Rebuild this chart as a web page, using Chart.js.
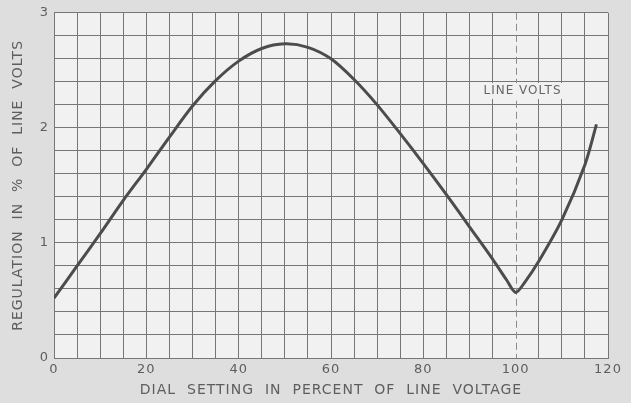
<!DOCTYPE html>
<html>
<head>
<meta charset="utf-8">
<script src="https://cdn.jsdelivr.net/npm/chart.js@4"></script>
<style>
  html, body { margin: 0; padding: 0; background: #dedede; }
  #wrap { width: 631px; height: 403px; }
</style>
</head>
<body>
<div id="wrap"><canvas id="chart1" width="631" height="403"></canvas></div>
<script>
// dial setting (% of line voltage) vs regulation (% of line volts)
const dialSetting = [0, 5, 10, 15, 20, 25, 30, 35, 40, 45, 50, 55, 60, 65, 70, 75, 80, 85, 90, 95, 98, 100, 102, 105, 110, 115, 117.5];
const regulation = [0.52, 0.8, 1.08, 1.37, 1.64, 1.92, 2.19, 2.41, 2.58, 2.69, 2.73, 2.7, 2.6, 2.42, 2.2, 1.95, 1.69, 1.42, 1.14, 0.86, 0.68, 0.57, 0.66, 0.84, 1.2, 1.68, 2.03];
const xLabelTicks = [0, 20, 40, 60, 80, 100, 120];
const yLabelTicks = [0, 1, 2, 3];
const lineVoltsAt = 100;
const lineVoltsLabel = 'LINE VOLTS';

const ink = '#5e5e5e';
const gridColor = '#767676';

const points = dialSetting.map((x, i) => ({ x: x, y: regulation[i] }));

// paper background + dashed marker at line volts
const paperPlugin = {
  id: 'paper',
  beforeDraw(chart) {
    const { ctx, chartArea: a } = chart;
    ctx.letterSpacing = '1px';
    ctx.save();
    ctx.fillStyle = '#f1f1f1';
    ctx.fillRect(a.left, a.top, a.right - a.left, a.bottom - a.top);
    ctx.restore();
  },
  beforeDatasetsDraw(chart) {
    const { ctx, chartArea: a, scales } = chart;
    const px = Math.round(scales.x.getPixelForValue(lineVoltsAt)) + 0.5;
    const ly = scales.y.getPixelForValue(2.32);
    ctx.save();
    ctx.strokeStyle = '#8c8c8c';
    ctx.lineWidth = 1;
    ctx.setLineDash([7, 4]);
    ctx.beginPath();
    ctx.moveTo(px, a.top);
    ctx.lineTo(px, a.bottom);
    ctx.stroke();
    ctx.setLineDash([]);
    ctx.font = '12px "DejaVu Sans"';
    const w = ctx.measureText(lineVoltsLabel).width;
    ctx.fillStyle = '#f1f1f1';
    ctx.fillRect(px + 6 - w / 2 - 4, ly - 8, w + 8, 16);
    ctx.fillStyle = '#666666';
    ctx.textAlign = 'center';
    ctx.textBaseline = 'middle';
    ctx.fillText(lineVoltsLabel, px + 6, ly);
    ctx.restore();
  }
};

new Chart(document.getElementById('chart1'), {
  type: 'line',
  data: {
    datasets: [{
      data: points,
      borderColor: '#4c4c4c',
      borderWidth: 3,
      pointRadius: 0,
      pointHoverRadius: 0,
      fill: false,
      tension: 0.3
    }]
  },
  options: {
    responsive: false,
    animation: false,
    layout: { padding: { left: 6, right: 23, top: 11, bottom: 0 } },
    plugins: {
      legend: { display: false },
      tooltip: { enabled: false }
    },
    scales: {
      x: {
        type: 'linear',
        min: 0,
        max: 120,
        afterFit(scale) { scale.height = 45; },
        grid: {
          color: ctx => ctx.tick && ctx.tick.value === lineVoltsAt ? 'rgba(0,0,0,0)' : gridColor,
          lineWidth: 1,
          drawTicks: false
        },
        border: { color: gridColor, width: 1 },
        ticks: {
          stepSize: 5,
          autoSkip: false,
          maxRotation: 0,
          padding: 4,
          color: ink,
          font: { family: 'DejaVu Sans', size: 13 },
          callback: v => xLabelTicks.includes(v) ? String(v) : ''
        },
        title: {
          display: true,
          text: 'DIAL  SETTING  IN  PERCENT  OF  LINE  VOLTAGE',
          color: ink,
          font: { family: 'DejaVu Sans', size: 14 },
          padding: { top: 2, bottom: 4 }
        }
      },
      y: {
        min: 0,
        max: 3,
        afterFit(scale) { scale.width = 48; },
        grid: { color: gridColor, lineWidth: 1, drawTicks: false },
        border: { color: gridColor, width: 1 },
        ticks: {
          stepSize: 0.2,
          autoSkip: false,
          padding: 5,
          color: ink,
          font: { family: 'DejaVu Sans', size: 13 },
          callback: v => {
            const r = Math.round(v);
            return Math.abs(v - r) < 1e-6 && yLabelTicks.includes(r) ? String(r) : '';
          }
        },
        title: {
          display: true,
          text: 'REGULATION  IN  %  OF  LINE  VOLTS',
          color: ink,
          font: { family: 'DejaVu Sans', size: 14 },
          padding: { top: 4, bottom: 0 }
        }
      }
    }
  },
  plugins: [paperPlugin]
});
</script>
</body>
</html>
